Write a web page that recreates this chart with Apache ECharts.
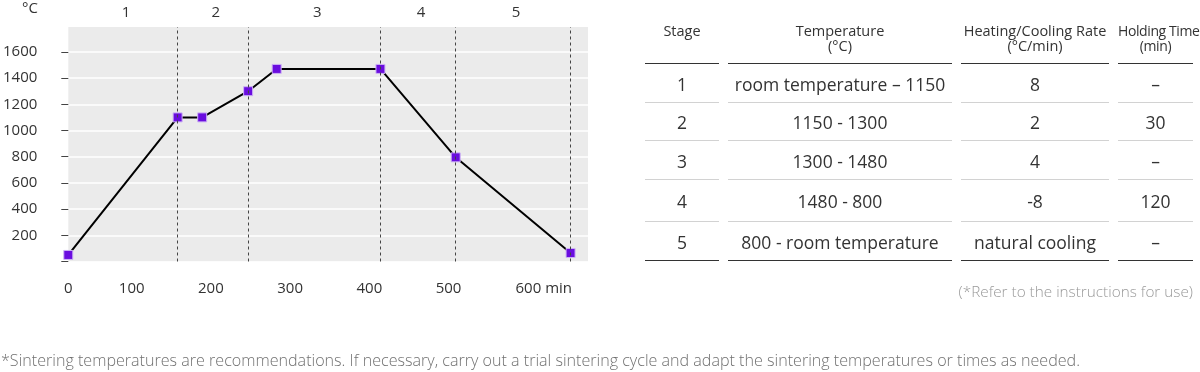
<!DOCTYPE html>
<html>
<head>
<meta charset="utf-8">
<script src="https://cdn.jsdelivr.net/npm/echarts@6/dist/echarts.min.js"></script>
<style>
  html, body { margin: 0; padding: 0; background: #fff; }
  body { width: 1200px; height: 372px; position: relative; overflow: hidden; font-family: "Open Sans", "Noto Sans", sans-serif; color: #333; }
  #chart { position: absolute; left: 0; top: 0; width: 1200px; height: 372px; }
  #tbl { position: absolute; left: 636px; top: 0; border-collapse: separate; border-spacing: 9px 0; table-layout: fixed; width: 566px; }
  #tbl th, #tbl td { padding: 0; text-align: center; white-space: nowrap; overflow: visible; }
  #tbl th { font-weight: normal; font-size: 14.5px; line-height: 15px; vertical-align: top; padding-top: 23px; padding-bottom: 9px; border-bottom: 1.5px solid #333; height: 31px; }
  #tbl th:nth-child(4) { font-size: 14px; letter-spacing: -0.4px; }
  #tbl td { font-size: 17.5px; line-height: 20px; vertical-align: middle; border-bottom: 1.5px solid #d2d2d2; height: 35.5px; padding-top: 2px; }
  #tbl tr:nth-child(4) td { height: 39.5px; }
  #tbl tr:last-child td { border-bottom: 1.5px solid #333; }
  #refer { position: absolute; right: 7px; top: 281px; font-size: 15.3px; color: #9a9a9a; font-weight: 300; }
  #foot { position: absolute; left: 1px; top: 349px; font-size: 16.1px; color: #707070; font-weight: 300; white-space: nowrap; }
</style>
</head>
<body>
<div id="chart"></div>
<table id="tbl"><thead><tr id="hdr"></tr></thead><tbody id="tbody"></tbody></table>
<div id="refer"></div>
<div id="foot"></div>
<script>
// ---- chart data ----
const stageNames = ['1', '2', '3', '4', '5'];
const stageBounds = [20, 158, 247, 414, 509, 654];
const timeMin = [20, 158, 189, 247, 283, 414, 509, 654];
const tempC = [50, 1100, 1100, 1300, 1470, 1470, 795, 65];
const xTickValues = [20, 100, 200, 300, 400, 500, 600];
const xTickLabels = ['0', '100', '200', '300', '400', '500', '600 min'];
const yTickValues = [0, 200, 400, 600, 800, 1000, 1200, 1400, 1600];
const yLabelValues = [200, 400, 600, 800, 1000, 1200, 1400, 1600];
const yUnit = '°C';

// ---- table data ----
const tableHeader = ['Stage', 'Temperature<br>(°C)', 'Heating/Cooling Rate<br>(°C/min)', 'Holding Time<br>(min)'];
const tableStage = ['1', '2', '3', '4', '5'];
const tableTemp = ['room temperature – 1150', '1150 - 1300', '1300 - 1480', '1480 - 800', '800 - room temperature'];
const tableRate = ['8', '2', '4', '-8', 'natural cooling'];
const tableHold = ['–', '30', '–', '120', '–'];
const referNote = '(*Refer to the instructions for use)';
const footNote = '*Sintering temperatures are recommendations. If necessary, carry out a trial sintering cycle and adapt the sintering temperatures or times as needed.';

// build table
const hdr = document.getElementById('hdr');
const colW = [74, 224, 148, 75];
tableHeader.forEach((h, i) => { const th = document.createElement('th'); th.innerHTML = h; th.style.width = colW[i] + 'px'; hdr.appendChild(th); });
const tb = document.getElementById('tbody');
tableStage.forEach((s, i) => {
  const tr = document.createElement('tr');
  [s, tableTemp[i], tableRate[i], tableHold[i]].forEach(v => { const td = document.createElement('td'); td.textContent = v; tr.appendChild(td); });
  tb.appendChild(tr);
});
document.getElementById('refer').textContent = referNote;
document.getElementById('foot').textContent = footNote;

// ---- chart ----
const fontFam = '"Open Sans", "Noto Sans", sans-serif';
const chart = echarts.init(document.getElementById('chart'), null, { renderer: 'canvas' });
const points = timeMin.map((t, i) => [t, tempC[i]]);
const areas = stageNames.map((n, i) => [
  { xAxis: stageBounds[i], name: n },
  { xAxis: stageBounds[i + 1] }
]);
chart.setOption({
  animation: false,
  textStyle: { fontFamily: fontFam },
  title: { text: yUnit, left: 22, top: 1, padding: 0, textStyle: { fontSize: 15, fontWeight: 'normal', color: '#333', fontFamily: fontFam } },
  grid: { left: 68, top: 27, width: 520, height: 234.5, show: true, backgroundColor: '#ebebeb', borderWidth: 0 },
  xAxis: {
    type: 'value', min: 20, max: 676,
    axisLine: { show: false }, axisTick: { show: false }, splitLine: { show: false },
    axisLabel: {
      customValues: xTickValues, margin: 20, fontSize: 15, color: '#333', fontFamily: fontFam,
      formatter: (v) => {
        const i = xTickValues.indexOf(v);
        const t = i >= 0 ? xTickLabels[i] : '';
        return i === xTickValues.length - 1 ? '{last|' + t + '}' : t;
      },
      rich: { last: { padding: [0, 0, 0, 32], fontSize: 15, color: '#333', fontFamily: fontFam } }
    }
  },
  yAxis: {
    type: 'value', min: 0, max: 1790, interval: 200,
    axisLine: { show: false },
    axisTick: { show: true, length: 7, customValues: yTickValues, lineStyle: { color: '#444', width: 1 } },
    axisLabel: { customValues: yLabelValues, margin: 31, fontSize: 15, color: '#333', fontFamily: fontFam, formatter: (v) => String(v) },
    splitLine: { show: true, lineStyle: { color: '#ffffff', width: 1.5 } }
  },
  series: [{
    type: 'line',
    data: points,
    symbol: 'rect', symbolSize: 9,
    lineStyle: { color: '#000', width: 2 },
    itemStyle: { color: '#6a0ddf', borderColor: '#cdb2f5', borderWidth: 1 },
    clip: false,
    z: 3,
    markLine: {
      silent: true, symbol: 'none', label: { show: false },
      lineStyle: { color: '#444', width: 1, type: [3, 3] },
      data: stageBounds.slice(1).map(v => ({ xAxis: v }))
    },
    markArea: {
      silent: true,
      itemStyle: { color: 'rgba(0,0,0,0)' },
      label: { show: true, position: 'top', distance: 7, offset: [3, 0], fontSize: 15, color: '#333', fontFamily: fontFam },
      data: areas
    }
  }]
});
</script>
</body>
</html>
